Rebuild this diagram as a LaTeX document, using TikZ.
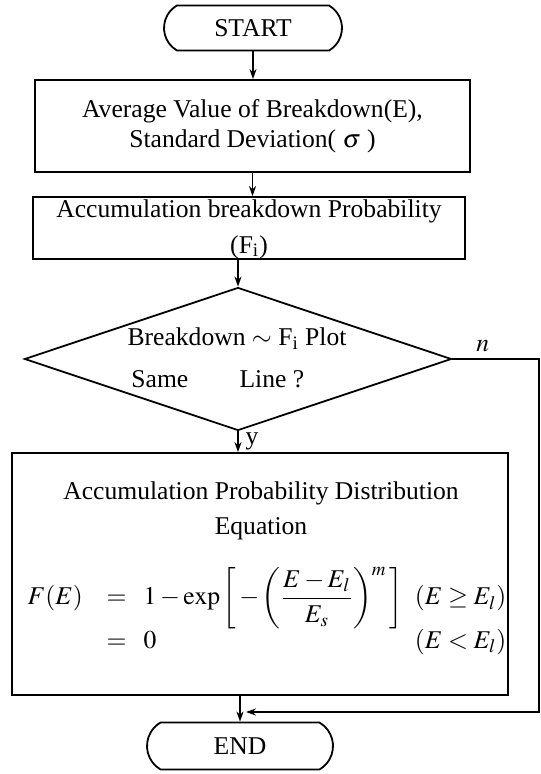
\documentclass[tikz,border=0pt]{standalone}
\usepackage{amsmath}
\usepackage{mathptmx}
\usepackage{fontspec}
\setmainfont{Liberation Serif}
\usetikzlibrary{arrows.meta,shapes.geometric,shapes.misc}
\tikzset{
    terminal/.style={draw, rounded rectangle, rounded rectangle arc length=120, inner sep=0pt},
    process/.style={draw, rectangle, align=center, inner sep=0pt},
    decision/.style={draw, diamond, inner sep=0pt},
    flow/.style={-{Stealth[length=5pt,width=3.5pt]}},
}
\begin{document}
\begin{tikzpicture}[x=0.5pt,y=-0.5pt,line width=0.9pt,font=\fontsize{12.8}{15}\selectfont]
    \useasboundingbox (0,0) rectangle (540,774);
    % Boxes of the chart
    \node[terminal, minimum width=89pt, minimum height=22.5pt] (start) at (253,28) {START};
    \node[process, minimum width=217.5pt, minimum height=46pt] (aver) at (252.5,126)
        {Average Value of Breakdown(E),\\ Standard Deviation( $\sigma$ )};
    \node[process, minimum width=216pt, minimum height=31pt] (accu) at (249,228) {};
    \node[align=center] (accutext) at (249,229)
        {Accumulation breakdown Probability\\[3pt] (F\textsubscript{i})};
    \node[decision, minimum width=213.5pt, minimum height=71.5pt] (dec) at (238,359) {};
    \node[align=center] (dectext) at (237,358)
        {Breakdown ${\sim}$ F\textsubscript{i} Plot\\[6pt] Same\hspace{2em}Line ?\hspace*{1.5em}};
    \node[process, minimum width=248pt, minimum height=121pt] (equ) at (260,574) {};
    \node[align=center] (equtitle) at (261,511)
        {Accumulation Probability Distribution\\[2.5pt] Equation};
    \node[anchor=west] (equform) at (20,612)
        {$\begin{array}{@{}l@{\hspace{12pt}}l@{\hspace{6pt}}r@{}}
            F(E) & =\;\; 1-\exp\left[\,-\left(\dfrac{E-E_l}{E_s}\right)^{m}\,\right] & (E\geq E_l)\\[-1pt]
                 & =\;\; 0 & (E<E_l)
          \end{array}$};
    \node[terminal, minimum width=93pt, minimum height=23.5pt] (finish) at (240,746) {END};
    % Connectors
    \draw[flow] (start.south) -- (start.south |- aver.north);
    \draw[flow] (aver.south) -- (aver.south |- accu.north);
    \draw[flow] (dec.north |- accu.south) -- (dec.north);
    \draw[flow] (dec.south) -- node[right]{y} (dec.south |- equ.north);
    \draw[flow] (finish.north |- equ.south) -- (finish.north);
    \coordinate (rim) at (539,0);
    \coordinate (back) at (246,712);
    \draw[flow] (dec.east) -- node[above, pos=0.35]{$n$} (dec.east -| rim) -- (rim |- back) -- (back);
\end{tikzpicture}
\end{document}
